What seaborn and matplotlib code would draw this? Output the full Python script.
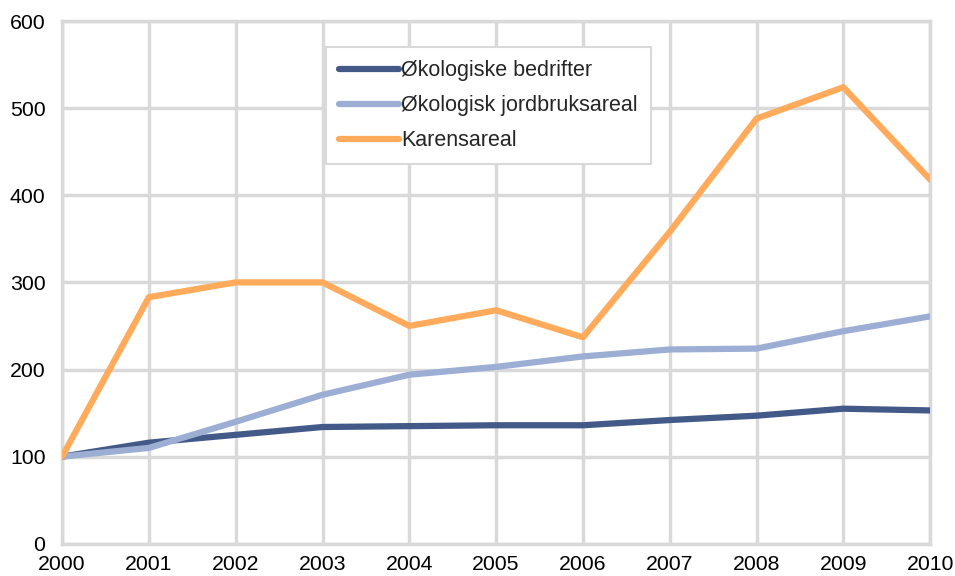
import matplotlib
matplotlib.use("Agg")
import matplotlib.pyplot as plt
import seaborn as sns
import pandas as pd

years = [2000, 2001, 2002, 2003, 2004, 2005, 2006, 2007, 2008, 2009, 2010]
bedrifter = [100, 116, 125, 134, 135, 136, 136, 142, 147, 155, 153]
jordbruksareal = [100, 110, 140, 171, 194, 203, 215, 223, 224, 244, 261]
karensareal = [100, 283, 300, 300, 250, 268, 237, 358, 488, 524, 418]
series_names = ["Økologiske bedrifter", "Økologisk jordbruksareal", "Karensareal"]
colors = ["#435a89", "#9daed4", "#ffab5b"]

df = pd.DataFrame({
    "year": years * 3,
    "value": bedrifter + jordbruksareal + karensareal,
    "series": [series_names[0]] * 11 + [series_names[1]] * 11 + [series_names[2]] * 11,
})

sns.set_theme(style="white")
plt.rcParams["font.family"] = ["Liberation Sans", "DejaVu Sans"]

fig, ax = plt.subplots(figsize=(9.55, 5.76), dpi=100)
fig.subplots_adjust(left=0.065, right=0.974, top=0.9635, bottom=0.056)

sns.lineplot(data=df, x="year", y="value", hue="series", hue_order=series_names,
             palette=colors, linewidth=4.5, ax=ax, legend=True, zorder=3)

ax.set_xlim(2000, 2010)
ax.set_ylim(0, 600)
ax.set_xticks(years)
ax.set_xticklabels([str(y) for y in years])
ax.set_yticks([0, 100, 200, 300, 400, 500, 600])
ax.grid(True, color="#d9d9d9", linewidth=2.5, zorder=0)
ax.set_axisbelow(True)
for s in ax.spines.values():
    s.set_color("#d9d9d9")
    s.set_linewidth(2.5)
ax.tick_params(axis="both", labelsize=15.3, length=0, colors="black")
ax.tick_params(axis="x", pad=8)
ax.tick_params(axis="y", pad=12)
ax.set_xlabel("")
ax.set_ylabel("")

leg = ax.legend(loc="upper left", bbox_to_anchor=(0.304, 0.950), fontsize=15.5,
                frameon=True, fancybox=False, edgecolor="#d9d9d9", framealpha=1,
                handlelength=2.8, handletextpad=0.1, labelspacing=0.65,
                borderpad=0.6, borderaxespad=0)
leg.get_frame().set_linewidth(1.5)
for line in leg.get_lines():
    line.set_linewidth(4.5)
    line.set_solid_capstyle("round")

fig.savefig("out.png", dpi=100)
